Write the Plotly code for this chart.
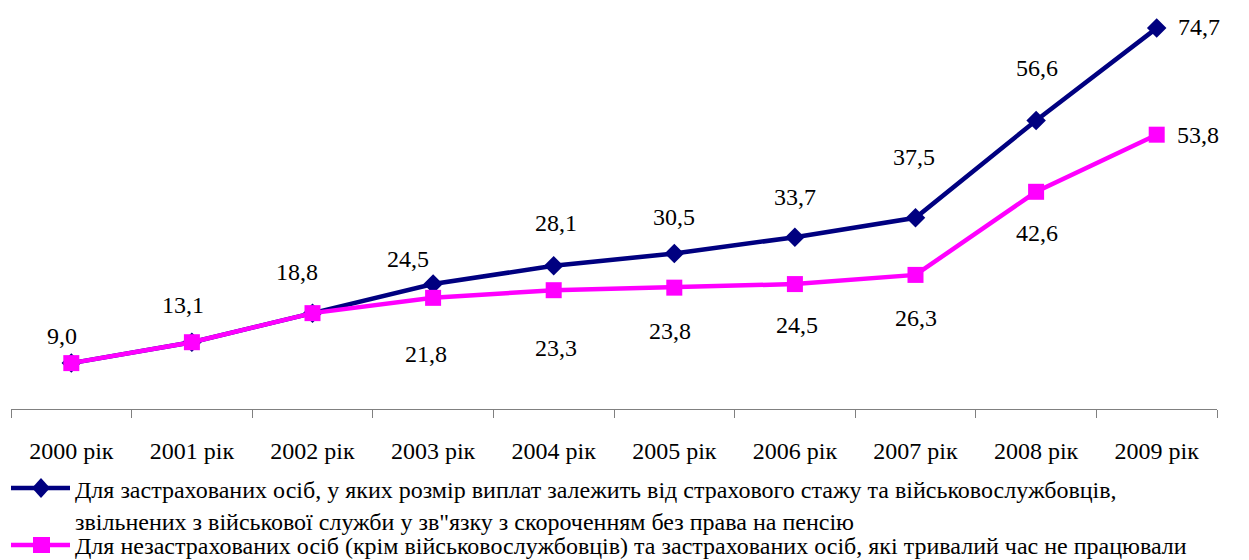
import plotly.graph_objects as go

years = ["2000 рік", "2001 рік", "2002 рік", "2003 рік", "2004 рік",
         "2005 рік", "2006 рік", "2007 рік", "2008 рік", "2009 рік"]
insured = [9.0, 13.1, 18.8, 24.5, 28.1, 30.5, 33.7, 37.5, 56.6, 74.7]
uninsured = [9.0, 13.1, 18.8, 21.8, 23.3, 23.8, 24.5, 26.3, 42.6, 53.8]
insured_name = ["Для застрахованих осіб, у яких розмір виплат залежить від страхового стажу та військовослужбовців,",
                "звільнених з військової служби у зв\"язку з скороченням без права на пенсію"]
uninsured_name = ["Для незастрахованих осіб (крім військовослужбовців) та застрахованих осіб, "
                  "які тривалий час не працювали"]

# label offsets in px (dx, dy up); None = label hidden (overlaps)
insured_shift = [(-9, 27), (-9, 37), (-16, 41), (-25, 25), (2, 43),
                 (0, 36), (0, 40), (-2, 61), (1, 52), (42, 1)]
uninsured_shift = [None, None, None, (-7, -56), (2, -58),
                   (-4, -43), (2, -41), (0, -43), (1, -41), (41, 0)]

FONT = "Liberation Serif"
FS = 24
NAVY = "#000080"
PINK = "#FF00FF"

# page body has an 8px margin, so work in a frame shifted by 8px
OFF = 8
W, H = 1249 - OFF, 560 - OFF
ML, MR, MT, MB = 11 - OFF, 32, 1, 151
PW, PH = W - ML - MR, H - MT - MB


def px(x):
    return (x - OFF - ML) / PW


def py(y):
    return (H - MB - (y - OFF)) / PH


fig = go.Figure()
fig.add_trace(go.Scatter(
    x=years, y=insured, mode="lines+markers", showlegend=False,
    line=dict(color=NAVY, width=4.5),
    marker=dict(symbol="diamond", size=15, color=NAVY),
))
fig.add_trace(go.Scatter(
    x=years, y=uninsured, mode="lines+markers", showlegend=False,
    line=dict(color=PINK, width=4.5),
    marker=dict(symbol="square", size=16, color=PINK),
))


def fmt(v):
    return f"{v:.1f}".replace(".", ",")


for vals, shifts in ((insured, insured_shift), (uninsured, uninsured_shift)):
    for yr, v, s in zip(years, vals, shifts):
        if s is None:
            continue
        fig.add_annotation(x=yr, y=v, text=fmt(v), showarrow=False,
                           xshift=s[0], yshift=s[1],
                           font=dict(family=FONT, size=FS, color="black"))

# hand-made legend below the axis: (colour, symbol, text lines, symbol y, text y per line)
legend_rows = [(NAVY, "diamond", insured_name, 488, [490, 522]),
               (PINK, "square", uninsured_name, 545, [546])]
for color, sym, lines, y0, ty in legend_rows:
    fig.add_shape(type="line", xref="paper", yref="paper",
                  x0=px(11), x1=px(70), y0=py(y0), y1=py(y0),
                  line=dict(color=color, width=4.5))
    if sym == "diamond":
        path = (f"M{px(41)},{py(y0 - 10)} L{px(50)},{py(y0)} "
                f"L{px(41)},{py(y0 + 10)} L{px(32)},{py(y0)} Z")
    else:
        path = (f"M{px(33)},{py(y0 - 8)} L{px(50)},{py(y0 - 8)} "
                f"L{px(50)},{py(y0 + 8)} L{px(33)},{py(y0 + 8)} Z")
    fig.add_shape(type="path", xref="paper", yref="paper", path=path,
                  fillcolor=color, line=dict(color=color, width=0))
    for t, yy in zip(lines, ty):
        fig.add_annotation(x=px(73), y=py(yy), xref="paper", yref="paper",
                           xanchor="left", yanchor="middle", text=t, showarrow=False,
                           font=dict(family=FONT, size=FS, color="black"))

fig.update_layout(
    width=W, height=H,
    margin=dict(l=ML, r=MR, t=MT, b=MB),
    paper_bgcolor="white", plot_bgcolor="white",
    font=dict(family=FONT, size=FS, color="black"),
    showlegend=False,
)
fig.update_xaxes(
    showgrid=False, showline=True, linecolor="#808080", linewidth=1,
    ticks="outside", tickson="boundaries", ticklen=8, tickcolor="#808080",
    ticklabelstandoff=20, range=[-0.5, 9.5],
    tickfont=dict(family=FONT, size=FS, color="black"),
)
fig.update_yaxes(
    range=[0, 78.45], showgrid=False, showline=False, zeroline=False,
    showticklabels=False, ticks="",
)

fig.write_html("out.html")
